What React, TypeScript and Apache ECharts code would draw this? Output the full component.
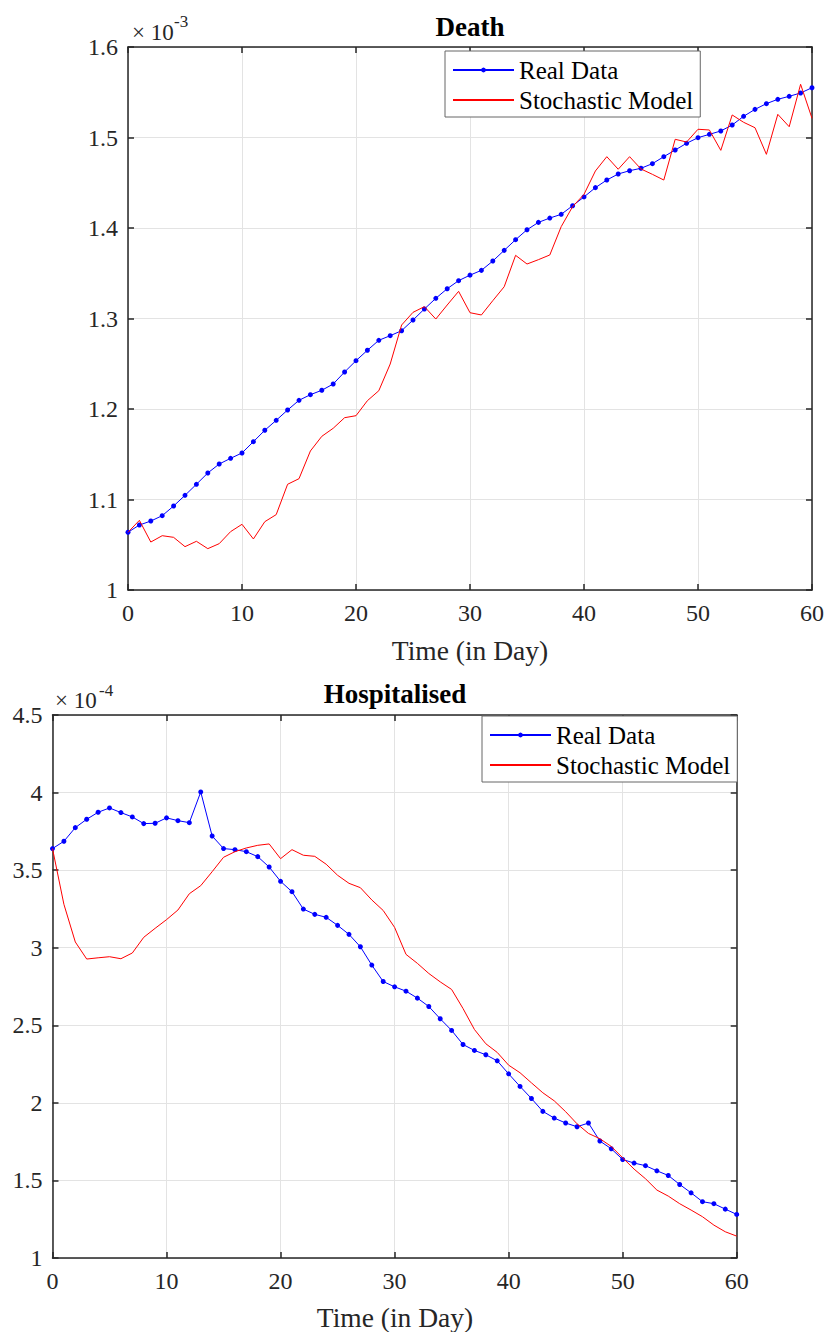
import React, { useEffect, useRef } from "react";
import * as echarts from "echarts";

const days = [0,1,2,3,4,5,6,7,8,9,10,11,12,13,14,15,16,17,18,19,20,21,22,23,24,25,26,27,28,29,30,31,32,33,34,35,36,37,38,39,40,41,42,43,44,45,46,47,48,49,50,51,52,53,54,55,56,57,58,59,60];

// Death (x 1e-3)
const deathReal = [1.0638,1.0718,1.0762,1.0821,1.0928,1.1046,1.1168,1.1293,1.1392,1.1455,1.1514,1.1639,1.1765,1.1875,1.1989,1.2096,1.2158,1.2207,1.2276,1.2409,1.2534,1.2649,1.2759,1.2810,1.2865,1.2983,1.3105,1.3223,1.3329,1.3418,1.3479,1.3532,1.3635,1.3753,1.3871,1.3981,1.4062,1.4110,1.4151,1.4246,1.4343,1.4446,1.4530,1.4597,1.4633,1.4660,1.4711,1.4788,1.4862,1.4936,1.4998,1.5035,1.5072,1.5138,1.5234,1.5311,1.5374,1.5422,1.5455,1.5492,1.5550];
const deathModel = [1.0638,1.0770,1.0530,1.0600,1.0582,1.0479,1.0538,1.0457,1.0512,1.0645,1.0726,1.0564,1.0755,1.0833,1.1168,1.1230,1.1536,1.1698,1.1787,1.1904,1.1926,1.2092,1.2202,1.2497,1.2928,1.3068,1.3131,1.2994,1.3149,1.3300,1.3064,1.3039,1.3197,1.3351,1.3698,1.3602,1.3650,1.3702,1.4015,1.4236,1.4372,1.4630,1.4788,1.4649,1.4788,1.4652,1.4593,1.4530,1.4980,1.4950,1.5091,1.5083,1.4858,1.5249,1.5168,1.5108,1.4814,1.5256,1.5119,1.5588,1.5212];

// Hospitalised (x 1e-4)
const hospReal = [3.639,3.686,3.774,3.828,3.873,3.901,3.871,3.843,3.800,3.802,3.837,3.819,3.806,4.004,3.720,3.639,3.632,3.619,3.587,3.520,3.428,3.361,3.249,3.215,3.196,3.144,3.086,3.006,2.888,2.782,2.748,2.720,2.675,2.621,2.542,2.467,2.376,2.338,2.310,2.271,2.187,2.106,2.028,1.945,1.902,1.870,1.846,1.870,1.754,1.704,1.635,1.612,1.595,1.562,1.532,1.474,1.420,1.363,1.350,1.315,1.281];
const hospModel = [3.639,3.280,3.037,2.927,2.935,2.942,2.929,2.966,3.067,3.125,3.181,3.243,3.348,3.400,3.490,3.583,3.619,3.643,3.660,3.669,3.574,3.632,3.596,3.589,3.538,3.467,3.415,3.387,3.308,3.240,3.131,2.957,2.899,2.834,2.780,2.731,2.608,2.473,2.381,2.325,2.243,2.194,2.129,2.065,2.013,1.943,1.865,1.803,1.769,1.719,1.646,1.573,1.511,1.438,1.399,1.350,1.309,1.266,1.212,1.169,1.141];

const xTicks = { min: 0, max: 60, interval: 10 };
const deathTicks = { min: 1, max: 1.6, interval: 0.1 };
const hospTicks = { min: 1, max: 4.5, interval: 0.5 };
const seriesNames = ["Real Data", "Stochastic Model"];

const FONT = "Liberation Serif";
const AX = "#262626";
const GRIDC = "#e3e3e3";

function xAxisCfg(gridIndex: number, position: "bottom" | "top") {
  const main = position === "bottom";
  return {
    type: "value",
    gridIndex,
    position,
    ...xTicks,
    axisLine: { show: true, onZero: false, lineStyle: { color: AX, width: 1.5 } },
    axisTick: { show: true, inside: true, length: 6, lineStyle: { color: AX, width: 1.5 } },
    axisLabel: { show: main, color: AX, fontSize: 24, fontFamily: FONT, fontStyle: "normal", fontWeight: "normal", margin: 11 },
    splitLine: { show: main, lineStyle: { color: GRIDC, width: 1 } },
  };
}

function yAxisCfg(gridIndex: number, position: "left" | "right", ticks: any) {
  const main = position === "left";
  return {
    type: "value",
    gridIndex,
    position,
    ...ticks,
    axisLine: { show: true, onZero: false, lineStyle: { color: AX, width: 1.5 } },
    axisTick: { show: true, inside: true, length: 6, lineStyle: { color: AX, width: 1.5 } },
    axisLabel: { show: main, color: AX, fontSize: 24, fontFamily: FONT, fontStyle: "normal", fontWeight: "normal", margin: 10 },
    splitLine: { show: main, lineStyle: { color: GRIDC, width: 1 } },
  };
}

function legendCfg(left: number, top: number) {
  return {
    data: [
      { name: seriesNames[0] },
      { name: seriesNames[1], itemStyle: { opacity: 0 } },
    ],
    orient: "vertical",
    left,
    top,
    itemWidth: 61,
    itemHeight: 6,
    itemGap: 4,
    padding: [6, 7, 4, 7],
    borderColor: "#666",
    borderWidth: 1,
    backgroundColor: "#fff",
    borderRadius: 0,
    selectedMode: false,
    textStyle: { fontSize: 25, fontFamily: FONT, color: "#000", lineHeight: 26 },
  };
}

function realSeries(xi: number, yi: number, vals: number[]) {
  return {
    name: seriesNames[0],
    type: "line",
    xAxisIndex: xi,
    yAxisIndex: yi,
    data: days.map((d, i) => [d, vals[i]]),
    symbol: "circle",
    symbolSize: 5,
    showSymbol: true,
    showAllSymbol: true,
    lineStyle: { color: "#0000ff", width: 1 },
    itemStyle: { color: "#0000ff" },
    z: 3,
  };
}

function modelSeries(xi: number, yi: number, vals: number[]) {
  return {
    name: seriesNames[1],
    type: "line",
    xAxisIndex: xi,
    yAxisIndex: yi,
    data: days.map((d, i) => [d, vals[i]]),
    symbol: "none",
    lineStyle: { color: "#ff0000", width: 1 },
    itemStyle: { color: "#ff0000" },
    z: 4,
  };
}

function txt(text: string, x: number, y: number, size: number, opts: any = {}) {
  return {
    type: "text",
    x,
    y,
    z: 10,
    style: {
      text,
      fontSize: size,
      fontFamily: FONT,
      fontWeight: opts.bold ? "bold" : "normal",
      fill: opts.fill || AX,
      textAlign: opts.align || "center",
      textVerticalAlign: "middle",
    },
  };
}

export default function App() {
  const ref = useRef<HTMLDivElement>(null);
  useEffect(() => {
    const chart = echarts.init(ref.current!, null, { renderer: "svg" });
    const option: any = {
      animation: false,
      backgroundColor: "#fff",
      textStyle: { fontFamily: FONT },
      grid: [
        { left: 128, top: 47, width: 684, height: 543 },
        { left: 52.5, top: 715, width: 684.2, height: 543 },
      ],
      xAxis: [xAxisCfg(0, "bottom"), xAxisCfg(0, "top"), xAxisCfg(1, "bottom"), xAxisCfg(1, "top")],
      yAxis: [
        yAxisCfg(0, "left", deathTicks),
        yAxisCfg(0, "right", deathTicks),
        yAxisCfg(1, "left", hospTicks),
        yAxisCfg(1, "right", hospTicks),
      ],
      legend: [legendCfg(445, 51), legendCfg(482, 716)],
      series: [
        realSeries(0, 0, deathReal),
        modelSeries(0, 0, deathModel),
        realSeries(2, 2, hospReal),
        modelSeries(2, 2, hospModel),
      ],
      graphic: [
        txt("Death", 470, 27, 27, { bold: true, fill: "#000" }),
        txt("Hospitalised", 395, 694, 27, { bold: true, fill: "#000" }),
        txt("× 10", 132, 32, 23, { align: "left" }),
        txt("-3", 174, 21, 17, { align: "left" }),
        txt("× 10", 55, 700, 23, { align: "left" }),
        txt("-4", 99, 690, 17, { align: "left" }),
        txt("Time (in Day)", 470, 650, 27.5),
        txt("Time (in Day)", 395, 1317, 27.5),
      ],
    };
    chart.setOption(option);
    return () => chart.dispose();
  }, []);
  return (
    <div
      ref={ref}
      style={{ position: "absolute", left: 0, top: 0, width: 827, height: 1332 }}
    />
  );
}
